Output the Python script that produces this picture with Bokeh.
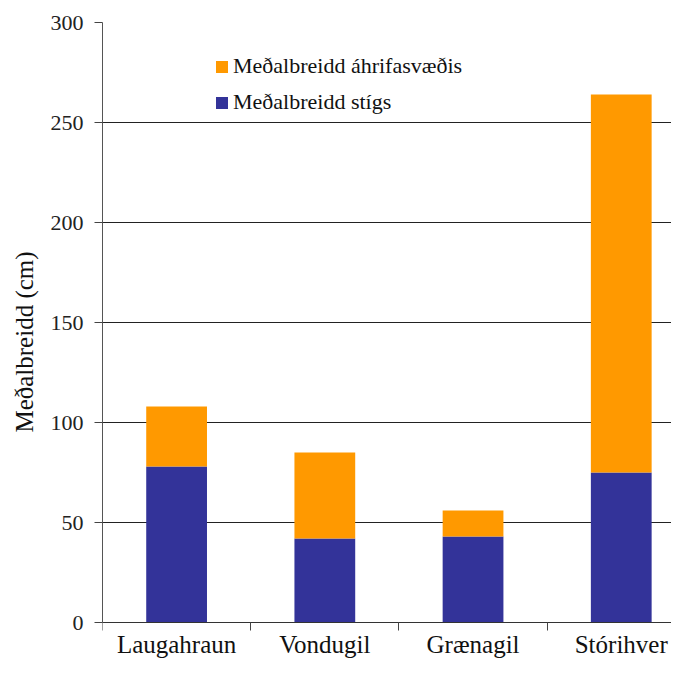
import numpy as np
from bokeh.plotting import figure
from bokeh.models import Range1d, FixedTicker, Legend, LegendItem, ColumnDataSource
from bokeh.embed import file_html
from bokeh.resources import INLINE

categories = ["Laugahraun", "Vondugil", "Grænagil", "Stórihver"]
stigs = [78, 42, 43, 75]
ahrif = [30, 43, 13, 189]
y_ticks = [0, 50, 100, 150, 200, 250, 300]
series_labels = ["Meðalbreidd stígs", "Meðalbreidd áhrifasvæðis"]
colors = ["#333399", "#FF9900"]

FONT = "Liberation Serif"

pos = list(np.arange(len(categories)) + 0.5)
src = ColumnDataSource(dict(x=pos, stigs=stigs, ahrif=ahrif))

p = figure(width=671, height=661, output_backend="svg", toolbar_location=None,
           x_range=Range1d(0, 3.839), y_range=Range1d(-19.5, 300),
           min_border_left=102, min_border_right=0, min_border_top=22, min_border_bottom=0)
p.outline_line_color = None
p.background_fill_color = "white"
p.border_fill_color = "white"

rs = p.vbar_stack(["stigs", "ahrif"], x="x", width=0.41, source=src,
                  color=colors, line_color=None)

# x axis drawn at y = 0: labels at category centres, ticks at category boundaries
xa = p.xaxis[0]
xa.fixed_location = 0
xa.ticker = FixedTicker(ticks=pos, minor_ticks=list(range(len(categories) + 1)))
xa.major_label_overrides = {float(v): c for v, c in zip(pos, categories)}
xa.major_tick_out = 0
xa.major_tick_in = 0
xa.minor_tick_out = 8
xa.minor_tick_in = 0
xa.minor_tick_line_color = "#444444"
xa.axis_line_color = "#333333"
xa.major_label_standoff = 0
xa.major_label_text_font = FONT
xa.major_label_text_font_size = "25px"
xa.major_label_text_color = "#111111"

ya = p.yaxis[0]
ya.ticker = FixedTicker(ticks=y_ticks)
ya.bounds = (0, 300)
ya.major_tick_out = 8
ya.major_tick_in = 0
ya.minor_tick_out = 0
ya.minor_tick_in = 0
ya.axis_line_color = "#555555"
ya.major_tick_line_color = "#444444"
ya.major_label_standoff = 11
ya.major_label_text_font = FONT
ya.major_label_text_font_size = "22px"
ya.major_label_text_color = "#222222"
ya.axis_label = "Meðalbreidd (cm)"
ya.axis_label_text_font = FONT
ya.axis_label_text_font_size = "25px"
ya.axis_label_text_font_style = "normal"
ya.axis_label_text_color = "#111111"
ya.axis_label_standoff = 10

p.xgrid.grid_line_color = None
p.ygrid.ticker = FixedTicker(ticks=y_ticks)
p.ygrid.grid_line_color = "#222222"
p.ygrid.grid_line_width = 1

legend = Legend(items=[LegendItem(label=series_labels[1], renderers=[rs[1]]),
                       LegendItem(label=series_labels[0], renderers=[rs[0]])],
                location=(112, 546), orientation="vertical")
legend.border_line_color = None
legend.background_fill_alpha = 0
legend.padding = 0
legend.margin = 0
legend.spacing = 10
legend.glyph_width = 15
legend.glyph_height = 15
legend.label_height = 24
legend.label_standoff = 4
legend.label_text_font = FONT
legend.label_text_font_size = "22px"
legend.label_text_color = "#111111"
p.add_layout(legend, "center")

open("out.html", "w").write(file_html(p, INLINE))
